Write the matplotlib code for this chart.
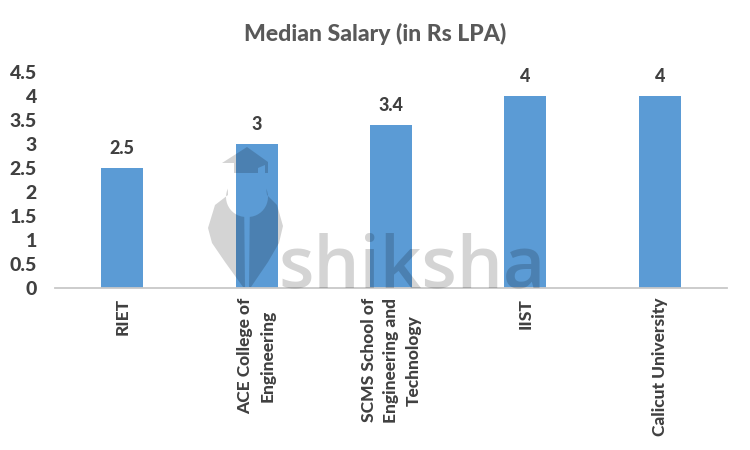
import numpy as np
import matplotlib
matplotlib.use("Agg")
import matplotlib.pyplot as plt
from matplotlib.patches import Polygon

colleges = ["RIET", "ACE College of\nEngineering", "SCMS School of\nEngineering and\nTechnology", "IIST", "Calicut University"]
salary = [2.5, 3, 3.4, 4, 4]
value_labels = ["2.5", "3", "3.4", "4", "4"]
y_ticks = [0, 0.5, 1, 1.5, 2, 2.5, 3, 3.5, 4, 4.5]
y_tick_labels = ["0", "0.5", "1", "1.5", "2", "2.5", "3", "3.5", "4", "4.5"]

BAR = "#5B9BD5"
TEXT = "#404040"
WM_ALPHA = 0.17
WEIGHT = 900

plt.rcParams["font.family"] = ["Lato", "DejaVu Sans"]


def add_watermark(fig):
    wm = fig.add_axes([0, 0, 1, 1], facecolor="none")
    wm.set_xlim(0, 750)
    wm.set_ylim(450, 0)
    wm.axis("off")

    # graduation cap
    cap = [(222, 163), (247, 147), (268, 162), (268, 173), (265, 173), (265, 165),
           (258, 168), (258, 173), (234, 173), (234, 163)]
    wm.add_patch(Polygon(cap, facecolor="black", alpha=WM_ALPHA, lw=0))

    # pen nib, two halves with a round hole at the top
    a = np.radians(np.linspace(205, 95, 14))
    arc_x = 247 + 20 * np.cos(a)
    arc_y = 197 + 20 * np.sin(a)
    left_in = list(zip(arc_x - 1, arc_y))
    left = [(228, 195)] + left_in + [(245, 287), (243, 287), (225, 262), (212, 243), (208, 228), (215, 205)]
    right = [(2 * 247 - px, py) for px, py in left_in] + [(249, 287), (251, 287), (268, 262), (279, 243), (283, 226), (277, 205), (267, 195)]
    wm.add_patch(Polygon(left, facecolor="black", alpha=WM_ALPHA, lw=0))
    wm.add_patch(Polygon(right, facecolor="black", alpha=WM_ALPHA, lw=0))

    wm.text(278, 287, "shiksha", fontsize=52.4, color="black", alpha=WM_ALPHA, va="baseline", ha="left",
            fontweight=600, family=["Open Sans", "DejaVu Sans"])


def main():
    fig = plt.figure(figsize=(7.5, 4.5), dpi=100)
    ax = fig.add_axes([55 / 750, 1 - 288 / 450, (727 - 55) / 750, (288 - 72) / 450])

    x = list(range(len(colleges)))
    ax.bar(x, salary, width=0.313, color=BAR, zorder=2)

    for xi, v, lab in zip(x, salary, value_labels):
        ax.text(xi, v + 0.41, lab, ha="center", va="center", fontsize=13, fontweight=WEIGHT, color=TEXT, zorder=5)

    ax.set_xlim(-0.5, 4.5)
    ax.set_ylim(0, 4.5)
    ax.set_xticks(x)
    ax.set_xticklabels(colleges, rotation=90, fontsize=12.5, fontweight=WEIGHT, color=TEXT, linespacing=1.5)
    ax.set_yticks(y_ticks)
    ax.set_yticklabels(y_tick_labels, fontsize=14, fontweight=WEIGHT, color=TEXT)
    ax.tick_params(axis="both", length=0)
    ax.tick_params(axis="y", pad=13)
    ax.tick_params(axis="x", pad=7)

    for s in ["top", "right", "left"]:
        ax.spines[s].set_visible(False)
    ax.spines["bottom"].set_color("#c8c8c8")
    ax.spines["bottom"].set_linewidth(1.3)

    fig.text(375 / 750, 1 - 33.5 / 450, "Median Salary (in Rs LPA)", ha="center", va="center",
             fontsize=16.6, fontweight=WEIGHT, color="#595959")

    add_watermark(fig)

    fig.savefig("out.png", dpi=100)
    plt.close(fig)


if __name__ == "__main__":
    main()
